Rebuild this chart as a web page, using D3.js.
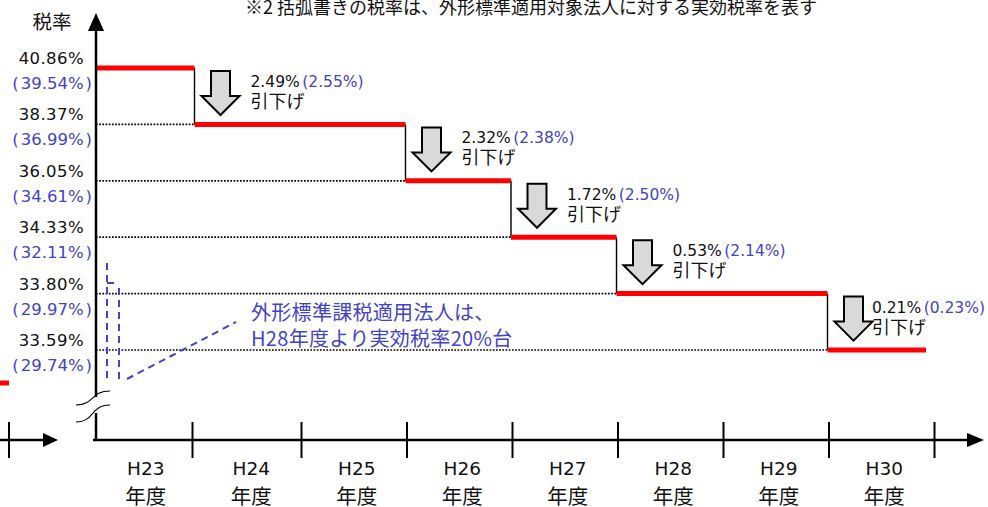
<!DOCTYPE html>
<html><head><meta charset="utf-8">
<script src="https://cdn.jsdelivr.net/npm/d3@7"></script>
<style>body{margin:0;background:#fff}svg{display:block}</style>
</head><body><svg id="c" width="988" height="507"></svg>
<script>
// ---- data ----
const years = ["H23","H24","H25","H26","H27","H28","H29","H30"];
const yearRates = [40.86,38.37,38.37,36.05,34.33,33.80,33.80,33.59];
const levels = [40.86,38.37,36.05,34.33,33.80,33.59];
const levelsGaikei = [39.54,36.99,34.61,32.11,29.97,29.74];
const cuts = [2.49,2.32,1.72,0.53,0.21];
const cutsGaikei = [2.55,2.38,2.50,2.14,0.23];
const yAxisTitle = "税率";
const yearSuffix = "年度";
const cutWord = "引下げ";
const note = "※2 括弧書きの税率は、外形標準適用対象法人に対する実効税率を表す";
const annotation = ["外形標準課税適用法人は、","H28年度より実効税率20%台"];

// ---- layout ----
const FONT = '"Noto Sans CJK JP", "Noto Sans CJK SC", sans-serif';
const NUMFONT = '"DejaVu Sans", "Noto Sans CJK JP", sans-serif';
const BLUE = "#4343c8";
const RED = "#ff0000";
const INK = "#111";
const W = 988;
const axisX = 96, axisY = 440;
const svg = d3.select("#c");
const x = d3.scaleBand().domain(years).range([92, 936]);
const bw = x.bandwidth();
const y = d3.scalePoint().domain(levels).range([68, 350]);
const fmt = d3.format(".2f");

// top note
svg.append("text").attr("x", 245).attr("y", 14).attr("font-family", FONT)
  .attr("font-size", 18).attr("fill", INK).text(note);

// left fragment (remnant of the neighbouring chart)
svg.append("line").attr("x1", 0).attr("x2", 9).attr("y1", 383).attr("y2", 383)
  .attr("stroke", RED).attr("stroke-width", 5);
svg.append("line").attr("x1", 0).attr("x2", 46).attr("y1", axisY).attr("y2", axisY)
  .attr("stroke", "#000").attr("stroke-width", 2.5);
svg.append("line").attr("x1", 9).attr("x2", 9).attr("y1", 422).attr("y2", 458)
  .attr("stroke", "#000").attr("stroke-width", 2);
svg.append("path").attr("d", "M58,440L43,433L43,447Z").attr("fill", "#000");

// y axis title
svg.append("text").attr("x", 52).attr("y", 29).attr("text-anchor", "middle")
  .attr("font-family", FONT).attr("font-size", 19.5).attr("fill", INK).text(yAxisTitle);

// step runs
const runs = [];
yearRates.forEach((r, i) => {
  if (runs.length && runs[runs.length - 1].rate === r) runs[runs.length - 1].end = i;
  else runs.push({rate: r, start: i, end: i});
});
const stepX = i => x(years[i]) - 3;
runs.forEach((run, k) => {
  const x0 = k === 0 ? axisX : stepX(run.start);
  const x1 = k === runs.length - 1 ? x(years[run.end]) + bw - 10 : stepX(run.end + 1);
  const yy = y(run.rate);
  if (k > 0) {
    svg.append("line").attr("x1", axisX).attr("x2", x0).attr("y1", yy).attr("y2", yy)
      .attr("stroke", "#000").attr("stroke-width", 1.7).attr("stroke-dasharray", "1.7,1.5");
    const yPrev = y(runs[k - 1].rate);
    svg.append("line").attr("x1", x0).attr("x2", x0).attr("y1", yPrev).attr("y2", yy)
      .attr("stroke", "#000").attr("stroke-width", 1.4);
  }
  run.x0 = x0; run.x1 = x1; run.y = yy;
});
runs.forEach(run => {
  svg.append("line").attr("x1", run.x0).attr("x2", run.x1).attr("y1", run.y).attr("y2", run.y)
    .attr("stroke", RED).attr("stroke-width", 5);
});

// arrows + cut labels
runs.slice(1).forEach((run, k) => {
  const cx = run.x0 + 26;
  const top = y(runs[k].rate) + 3;
  const h = 44, hw = 19, sw = 9.5, hl = 19;
  const p = d3.path();
  p.moveTo(cx - sw, top); p.lineTo(cx + sw, top); p.lineTo(cx + sw, top + h - hl);
  p.lineTo(cx + hw, top + h - hl); p.lineTo(cx, top + h); p.lineTo(cx - hw, top + h - hl);
  p.lineTo(cx - sw, top + h - hl); p.closePath();
  svg.append("path").attr("d", p.toString()).attr("fill", "#d9d9d9")
    .attr("stroke", "#000").attr("stroke-width", 2).attr("stroke-linejoin", "miter");
  const t = svg.append("text").attr("x", cx + 30).attr("y", top + 16)
    .attr("font-family", NUMFONT).attr("font-size", 15.5).attr("fill", INK);
  t.append("tspan").text(fmt(cuts[k]) + "%");
  t.append("tspan").attr("dx", 2.5).attr("fill", BLUE).text("(" + fmt(cutsGaikei[k]) + "%)");
  const w = t.node().getComputedTextLength() + 2.5;
  const lx = Math.min(cx + 30, W - 3 - w);
  t.attr("x", lx);
  svg.append("text").attr("x", lx).attr("y", top + 37)
    .attr("font-family", FONT).attr("font-size", 18).attr("fill", INK).text(cutWord);
});

// left level labels
levels.forEach((v, i) => {
  svg.append("text").attr("x", 84).attr("y", y(v) - 4).attr("text-anchor", "end")
    .attr("font-family", NUMFONT).attr("font-size", 16.5).attr("fill", INK)
    .attr("letter-spacing", 0.4).text(fmt(v) + "%");
  const b = svg.append("text").attr("x", 92).attr("y", y(v) + 21).attr("text-anchor", "end")
    .attr("font-family", NUMFONT).attr("font-size", 16.5).attr("fill", BLUE);
  b.append("tspan").text("(");
  b.append("tspan").attr("dx", 2).text(fmt(levelsGaikei[i]) + "%");
  b.append("tspan").attr("dx", 2).text(")");
});

// y axis (with break)
svg.append("line").attr("x1", axisX).attr("x2", axisX).attr("y1", 28).attr("y2", 397)
  .attr("stroke", "#000").attr("stroke-width", 2.5);
svg.append("line").attr("x1", axisX).attr("x2", axisX).attr("y1", 413).attr("y2", axisY + 1)
  .attr("stroke", "#000").attr("stroke-width", 2.5);
svg.append("path").attr("d", `M${axisX},13L${axisX + 8},31L${axisX - 8},31Z`).attr("fill", "#000");
svg.append("path").attr("d", "M76,405C95,405 90,391 110,391").attr("fill", "none")
  .attr("stroke", "#000").attr("stroke-width", 1.1);
svg.append("path").attr("d", "M76,422C95,422 90,405 110,405").attr("fill", "none")
  .attr("stroke", "#000").attr("stroke-width", 1.1);

// x axis
svg.append("line").attr("x1", 93).attr("x2", 970).attr("y1", axisY).attr("y2", axisY)
  .attr("stroke", "#000").attr("stroke-width", 2.5);
svg.append("path").attr("d", `M984,${axisY}L967,${axisY - 7}L967,${axisY + 7}Z`).attr("fill", "#000");
years.forEach((yr, i) => {
  const tx = x(yr) + bw - (i === 0 ? 5 : 1.5);
  svg.append("line").attr("x1", tx).attr("x2", tx).attr("y1", 422).attr("y2", 458)
    .attr("stroke", "#000").attr("stroke-width", 2);
  const cx = x(yr) + bw / 2 + 1;
  svg.append("text").attr("x", cx).attr("y", 475).attr("text-anchor", "middle")
    .attr("font-family", NUMFONT).attr("font-size", 18.5).attr("fill", INK).text(yr);
  svg.append("text").attr("x", cx).attr("y", 504).attr("text-anchor", "middle")
    .attr("font-family", FONT).attr("font-size", 20.5).attr("fill", INK).text(yearSuffix);
});

// blue annotation
const ann = svg.append("g").attr("stroke", BLUE).attr("stroke-width", 2)
  .attr("stroke-dasharray", "7,5").attr("fill", "none");
ann.append("path").attr("d", "M107,263V383");
ann.append("path").attr("d", "M107,283H116").attr("stroke-dasharray", null);
ann.append("path").attr("d", "M119,288V383");
ann.append("path").attr("d", "M127,379L236,322");
annotation.forEach((s, i) => {
  svg.append("text").attr("x", 251).attr("y", 320 + i * 26)
    .attr("font-family", FONT).attr("font-size", 20).attr("letter-spacing", 0.3)
    .attr("fill", BLUE).text(s);
});
</script></body></html>
